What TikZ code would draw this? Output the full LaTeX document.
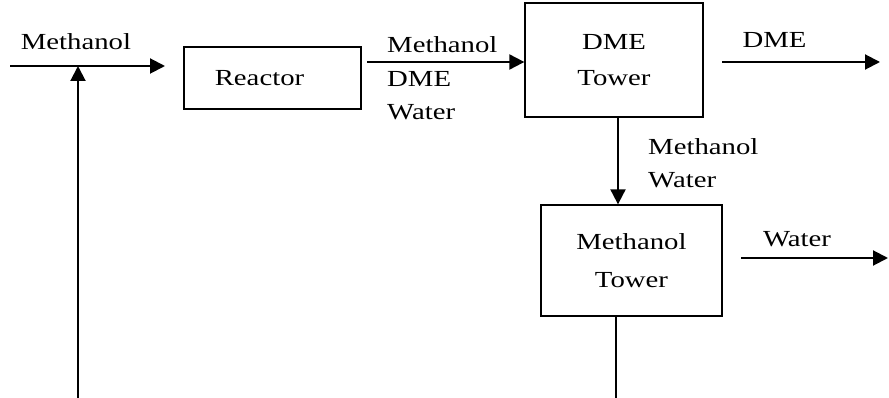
\documentclass[tikz,border=0pt]{standalone}
\usepackage{fontspec}
\setmainfont{Liberation Serif}[FakeStretch=1.25]
\usetikzlibrary{arrows.meta}

\begin{document}
\begin{tikzpicture}[x=1pt, y=-1pt, font=\fontsize{23}{33.5}\selectfont,
  unit/.style={draw, line width=1.3pt, align=center, inner sep=0pt},
  stream/.style={line width=2pt, -{Triangle[length=15pt, width=15pt]}},
  tail/.style={line width=1.5pt}]
\useasboundingbox (0,0) rectangle (889,398);
% units
\node[unit, minimum width=177pt, minimum height=62pt,
  label={[xshift=-13pt]center:Reactor}] (reactor) at (272.5,78) {};
\node[unit, minimum width=178pt, minimum height=114pt] (dmetower) at (614,60) {DME\\[2pt]Tower};
\node[unit, minimum width=181pt, minimum height=111pt] (metower) at (631.5,260.5) {Methanol\\[5pt]Tower};
% stream ends
\coordinate (feed)    at (10,66);
\coordinate (feedend) at (165,66);
\coordinate (mix)     at (78,66);
\coordinate (recycle) at (78,398);
\coordinate (rout)    at (367,62);
\coordinate (dmeout)  at (722,62);
\coordinate (dmeend)  at (880,62);
\coordinate (wout)    at (741,258);
\coordinate (wend)    at (888,258);
% streams
\draw[stream] (feed) -- (feedend);
\draw[stream] (recycle) -- (mix);
\draw[stream] (rout) -- (rout -| dmetower.west);
\draw[stream] (dmeout) -- (dmeend);
\draw[stream] ([xshift=4pt]dmetower.south) -- ([xshift=4pt]dmetower.south |- metower.north);
\draw[stream] (wout) -- (wend);
\draw[tail] ([xshift=-15.5pt]metower.south) -- ([xshift=-15.5pt]metower.south |- recycle);
% stream labels (base = last line)
\node[anchor=base] (lfeed) at (76,50) {Methanol};
\node[anchor=base west, align=left, inner sep=0pt] (lmix) at (387,120) {Methanol\\DME\\Water};
\node[anchor=base, inner sep=0pt] (ldme) at (774.5,48) {DME};
\node[anchor=base west, align=left, inner sep=0pt] (lbot) at (648,188) {Methanol\\Water};
\node[anchor=base, inner sep=0pt] (lwater) at (797,247) {Water};
\end{tikzpicture}
\end{document}
